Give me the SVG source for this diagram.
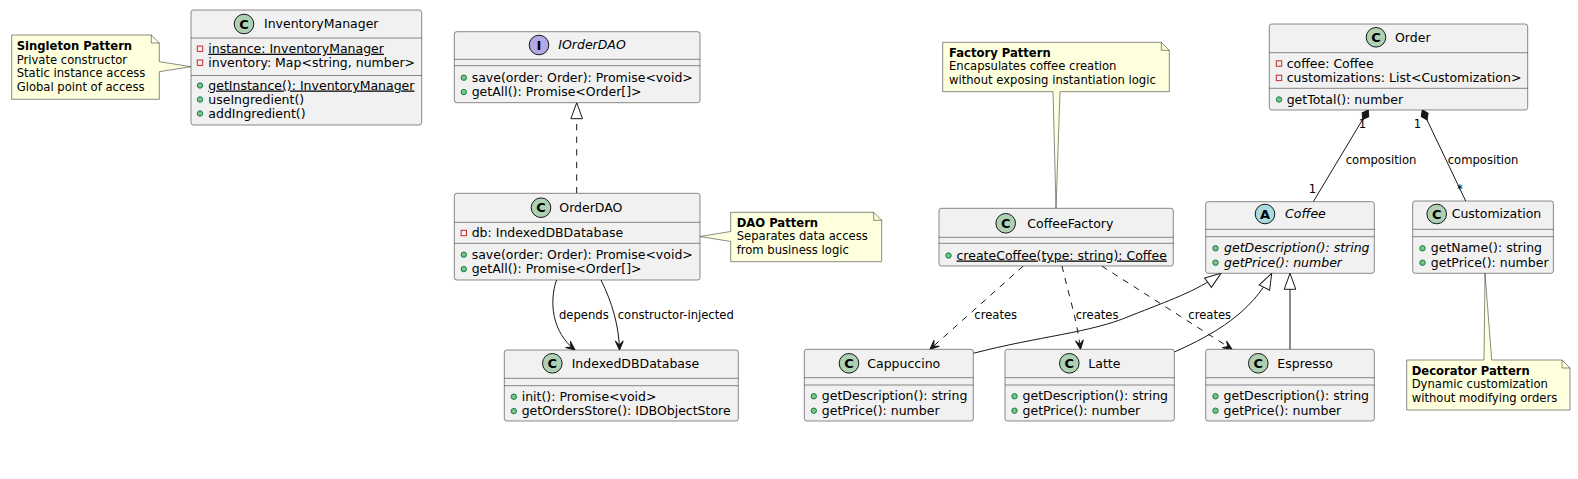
<svg xmlns="http://www.w3.org/2000/svg" width="1578" height="479" viewBox="0 0 1578 479">
<style>
text{font-family:"DejaVu Sans","Liberation Sans",sans-serif;fill:#000}
.t{font-size:12.5px}
.n{font-size:11.6px}
.b{font-weight:bold}
.i{font-style:italic}
.u{text-decoration:underline}
.box{fill:#F1F1F1;stroke:#181818;stroke-width:0.5}
.sep{stroke:#181818;stroke-width:0.5}
.note{fill:#FEFFDD;stroke:#181818;stroke-width:0.5}
.fold{fill:none;stroke:#181818;stroke-width:0.5}
.cc{fill:#ADD1B2;stroke:#181818;stroke-width:1}
.ci{fill:#B4A7E5;stroke:#181818;stroke-width:1}
.ca{fill:#A9DCDF;stroke:#181818;stroke-width:1}
.lt{font-size:13px;font-weight:bold;text-anchor:middle}
.priv{fill:none;stroke:#C82930;stroke-width:1}
.pub{fill:#84BE84;stroke:#038048;stroke-width:1}
.edge{fill:none;stroke:#181818;stroke-width:1}
.dash{stroke-dasharray:6.3,6.3}
</style>
<defs>
<marker id="arr" markerUnits="userSpaceOnUse" markerWidth="20" markerHeight="20" refX="0" refY="0" orient="auto" overflow="visible"><path d="M0,0 L-9,-4 L-5,0 L-9,4 Z" fill="#181818" stroke="#181818" stroke-width="1"/></marker>
<marker id="tri" markerUnits="userSpaceOnUse" markerWidth="20" markerHeight="20" refX="0" refY="0" orient="auto" overflow="visible"><path d="M0,0 L-16,-5.8 L-16,5.8 Z" fill="#FFFFFF" stroke="#181818" stroke-width="1"/></marker>
<marker id="dia" markerUnits="userSpaceOnUse" markerWidth="20" markerHeight="20" refX="0" refY="0" orient="auto" overflow="visible"><path d="M0,0 L5.5,-3.8 L11,0 L5.5,3.8 Z" fill="#181818" stroke="#181818" stroke-width="1"/></marker>
</defs>
<rect width="1578" height="479" fill="#FFFFFF"/>

<g id="connectors">
<path class="edge dash" d="M576.7,193.3 L576.7,102.7" marker-end="url(#tri)"/>
<path class="edge" d="M556.5,280 C549,302 552,332 575,350" marker-end="url(#arr)"/>
<path class="edge" d="M601,280 C612,302 619,326 619.5,350" marker-end="url(#arr)"/>
<path class="edge dash" d="M1023.3,266 L930,349.3" marker-end="url(#arr)"/>
<path class="edge dash" d="M1062,266 C1068,292 1077,320 1080.5,349.3" marker-end="url(#arr)"/>
<path class="edge dash" d="M1101.7,266 L1232,349.3" marker-end="url(#arr)"/>
<path class="edge" d="M973.3,353.3 C1040,336 1090,333 1130,316 C1170,300 1195,292 1221,273.3" marker-end="url(#tri)"/>
<path class="edge" d="M1174.3,352 C1215,334 1252,312 1271.7,273.3" marker-end="url(#tri)"/>
<path class="edge" d="M1290,349.3 L1290,273.3" marker-end="url(#tri)"/>
<path class="edge" d="M1368.3,110 L1313.3,201.7" marker-start="url(#dia)"/>
<path class="edge" d="M1422.3,110 L1465.7,201" marker-start="url(#dia)"/>
<text class="n" x="559" y="318.5">depends</text>
<text class="n" x="617.7" y="318.5">constructor-injected</text>
<text class="n" x="974.3" y="319">creates</text>
<text class="n" x="1075.7" y="319">creates</text>
<text class="n" x="1188.3" y="319">creates</text>
<text class="n" x="1345.7" y="164">composition</text>
<text class="n" x="1447.7" y="164">composition</text>
<text class="n" x="1362.5" y="128.3" text-anchor="middle">1</text>
<text class="n" x="1312.5" y="192.7" text-anchor="middle">1</text>
<text class="n" x="1417.5" y="128.3" text-anchor="middle">1</text>
<text class="n" x="1460" y="192.7" text-anchor="middle">*</text>
</g>

<g id="note-singleton">
<path class="note" d="M11.7,35 L151.3,35 L159.3,43 L159.3,61.7 L191,66.7 L159.3,71.7 L159.3,99.3 L11.7,99.3 Z"/>
<path class="fold" d="M151.3,35 L151.3,43 L159.3,43"/>
<text class="n b" x="16.7" y="50.3">Singleton Pattern</text>
<text class="n" x="16.7" y="63.7">Private constructor</text>
<text class="n" x="16.7" y="77.1">Static instance access</text>
<text class="n" x="16.7" y="90.5">Global point of access</text>
</g>

<g id="InventoryManager">
<rect class="box" x="191" y="10" width="230.7" height="115" rx="2.5"/>
<line class="sep" x1="191" y1="38" x2="421.7" y2="38"/>
<line class="sep" x1="191" y1="75.5" x2="421.7" y2="75.5"/>
<circle class="cc" cx="244" cy="24" r="9.8"/>
<text class="lt" x="244" y="28.6">C</text>
<text class="t" x="264" y="28.4">InventoryManager</text>
<rect class="priv" x="197.3" y="46" width="5.4" height="5.4"/>
<text class="t u" x="208.3" y="52.7">instance: InventoryManager</text>
<rect class="priv" x="197.3" y="60" width="5.4" height="5.4"/>
<text class="t" x="208.3" y="66.7">inventory: Map&lt;string, number&gt;</text>
<circle class="pub" cx="200" cy="85.5" r="2.7"/>
<text class="t u" x="208.3" y="89.5">getInstance(): InventoryManager</text>
<circle class="pub" cx="200" cy="99.5" r="2.7"/>
<text class="t" x="208.3" y="103.5">useIngredient()</text>
<circle class="pub" cx="200" cy="113.5" r="2.7"/>
<text class="t" x="208.3" y="117.5">addIngredient()</text>
</g>

<g id="IOrderDAO">
<rect class="box" x="454.3" y="31.7" width="245.7" height="71" rx="2.5"/>
<line class="sep" x1="454.3" y1="59.3" x2="700" y2="59.3"/>
<line class="sep" x1="454.3" y1="65.7" x2="700" y2="65.7"/>
<circle class="ci" cx="539" cy="45" r="9.8"/>
<text class="lt" x="539" y="49.6">I</text>
<text class="t i" x="558.3" y="49.4">IOrderDAO</text>
<circle class="pub" cx="463.8" cy="77.7" r="2.7"/>
<text class="t" x="471.7" y="81.7">save(order: Order): Promise&lt;void&gt;</text>
<circle class="pub" cx="463.8" cy="92.1" r="2.7"/>
<text class="t" x="471.7" y="96.1">getAll(): Promise&lt;Order[]&gt;</text>
</g>

<g id="OrderDAO">
<rect class="box" x="454.3" y="193.3" width="245.7" height="86.7" rx="2.5"/>
<line class="sep" x1="454.3" y1="222.3" x2="700" y2="222.3"/>
<line class="sep" x1="454.3" y1="243.3" x2="700" y2="243.3"/>
<circle class="cc" cx="541" cy="207.7" r="9.8"/>
<text class="lt" x="541" y="212.3">C</text>
<text class="t" x="559.3" y="212.1">OrderDAO</text>
<rect class="priv" x="461.1" y="230.3" width="5.4" height="5.4"/>
<text class="t" x="471.7" y="237">db: IndexedDBDatabase</text>
<circle class="pub" cx="463.8" cy="254.7" r="2.7"/>
<text class="t" x="471.7" y="258.7">save(order: Order): Promise&lt;void&gt;</text>
<circle class="pub" cx="463.8" cy="269.1" r="2.7"/>
<text class="t" x="471.7" y="273.1">getAll(): Promise&lt;Order[]&gt;</text>
</g>

<g id="note-dao">
<path class="note" d="M730.7,212.3 L873.7,212.3 L881.7,220.3 L881.7,261.7 L730.7,261.7 L730.7,241.5 L700,236.5 L730.7,231.5 Z"/>
<path class="fold" d="M873.7,212.3 L873.7,220.3 L881.7,220.3"/>
<text class="n b" x="736.7" y="226.7">DAO Pattern</text>
<text class="n" x="736.7" y="240.1">Separates data access</text>
<text class="n" x="736.7" y="253.5">from business logic</text>
</g>

<g id="IndexedDBDatabase">
<rect class="box" x="504.3" y="350" width="234" height="71" rx="2.5"/>
<line class="sep" x1="504.3" y1="378.3" x2="738.3" y2="378.3"/>
<line class="sep" x1="504.3" y1="385.7" x2="738.3" y2="385.7"/>
<circle class="cc" cx="552.3" cy="363.3" r="9.8"/>
<text class="lt" x="552.3" y="367.9">C</text>
<text class="t" x="571.7" y="367.7">IndexedDBDatabase</text>
<circle class="pub" cx="513.8" cy="396.7" r="2.7"/>
<text class="t" x="521.7" y="400.7">init(): Promise&lt;void&gt;</text>
<circle class="pub" cx="513.8" cy="411.1" r="2.7"/>
<text class="t" x="521.7" y="415.1">getOrdersStore(): IDBObjectStore</text>
</g>

<g id="note-factory">
<path class="note" d="M942.7,42.3 L1161.3,42.3 L1169.3,50.3 L1169.3,91.7 L1060,91.7 L1056,208.3 L1053,91.7 L942.7,91.7 Z"/>
<path class="fold" d="M1161.3,42.3 L1161.3,50.3 L1169.3,50.3"/>
<text class="n b" x="949" y="56.7">Factory Pattern</text>
<text class="n" x="949" y="70.1">Encapsulates coffee creation</text>
<text class="n" x="949" y="83.5">without exposing instantiation logic</text>
</g>

<g id="CoffeeFactory">
<rect class="box" x="939" y="208.3" width="234.3" height="57.7" rx="2.5"/>
<line class="sep" x1="939" y1="237.3" x2="1173.3" y2="237.3"/>
<line class="sep" x1="939" y1="243.3" x2="1173.3" y2="243.3"/>
<circle class="cc" cx="1005.7" cy="223.3" r="9.8"/>
<text class="lt" x="1005.7" y="227.9">C</text>
<text class="t" x="1027.3" y="227.7">CoffeeFactory</text>
<circle class="pub" cx="948.5" cy="255.5" r="2.7"/>
<text class="t u" x="956.5" y="259.5">createCoffee(type: string): Coffee</text>
</g>

<g id="Order">
<rect class="box" x="1269.3" y="24" width="258.4" height="86" rx="2.5"/>
<line class="sep" x1="1269.3" y1="52.7" x2="1527.7" y2="52.7"/>
<line class="sep" x1="1269.3" y1="88.3" x2="1527.7" y2="88.3"/>
<circle class="cc" cx="1376" cy="37.3" r="9.8"/>
<text class="lt" x="1376" y="41.9">C</text>
<text class="t" x="1395" y="41.7">Order</text>
<rect class="priv" x="1276.3" y="60.8" width="5.4" height="5.4"/>
<text class="t" x="1286.7" y="67.5">coffee: Coffee</text>
<rect class="priv" x="1276.3" y="75.2" width="5.4" height="5.4"/>
<text class="t" x="1286.7" y="81.9">customizations: List&lt;Customization&gt;</text>
<circle class="pub" cx="1279" cy="99.5" r="2.7"/>
<text class="t" x="1286.7" y="103.5">getTotal(): number</text>
</g>

<g id="Coffee">
<rect class="box" x="1205.7" y="201.7" width="168.6" height="71.6" rx="2.5"/>
<line class="sep" x1="1205.7" y1="229.3" x2="1374.3" y2="229.3"/>
<line class="sep" x1="1205.7" y1="236.7" x2="1374.3" y2="236.7"/>
<circle class="ca" cx="1265" cy="214" r="9.8"/>
<text class="lt" x="1265" y="218.6">A</text>
<text class="t i" x="1285" y="218.4">Coffee</text>
<circle class="pub" cx="1215.5" cy="248.3" r="2.7"/>
<text class="t i" x="1224" y="252.3">getDescription(): string</text>
<circle class="pub" cx="1215.5" cy="262.7" r="2.7"/>
<text class="t i" x="1224" y="266.7">getPrice(): number</text>
</g>

<g id="Customization">
<rect class="box" x="1412.7" y="201" width="140.7" height="72.3" rx="2.5"/>
<line class="sep" x1="1412.7" y1="229.3" x2="1553.4" y2="229.3"/>
<line class="sep" x1="1412.7" y1="236.7" x2="1553.4" y2="236.7"/>
<circle class="cc" cx="1436.7" cy="214" r="9.8"/>
<text class="lt" x="1436.7" y="218.6">C</text>
<text class="t" x="1451.7" y="218.4">Customization</text>
<circle class="pub" cx="1422.5" cy="248.3" r="2.7"/>
<text class="t" x="1430.8" y="252.3">getName(): string</text>
<circle class="pub" cx="1422.5" cy="262.7" r="2.7"/>
<text class="t" x="1430.8" y="266.7">getPrice(): number</text>
</g>

<g id="note-decorator">
<path class="note" d="M1406.7,360 L1484,360 L1485,273.3 L1491.7,360 L1562,360 L1570,368 L1570,410 L1406.7,410 Z"/>
<path class="fold" d="M1562,360 L1562,368 L1570,368"/>
<text class="n b" x="1411.7" y="375">Decorator Pattern</text>
<text class="n" x="1411.7" y="388.4">Dynamic customization</text>
<text class="n" x="1411.7" y="401.8">without modifying orders</text>
</g>

<g id="Cappuccino">
<rect class="box" x="804.3" y="349.3" width="169" height="71.7" rx="2.5"/>
<line class="sep" x1="804.3" y1="377.7" x2="973.3" y2="377.7"/>
<line class="sep" x1="804.3" y1="385" x2="973.3" y2="385"/>
<circle class="cc" cx="849" cy="363.3" r="9.8"/>
<text class="lt" x="849" y="367.9">C</text>
<text class="t" x="867.3" y="367.7">Cappuccino</text>
<circle class="pub" cx="813.8" cy="396.3" r="2.7"/>
<text class="t" x="821.8" y="400.3">getDescription(): string</text>
<circle class="pub" cx="813.8" cy="410.7" r="2.7"/>
<text class="t" x="821.8" y="414.7">getPrice(): number</text>
</g>

<g id="Latte">
<rect class="box" x="1005" y="349.3" width="169.3" height="71.7" rx="2.5"/>
<line class="sep" x1="1005" y1="377.7" x2="1174.3" y2="377.7"/>
<line class="sep" x1="1005" y1="385" x2="1174.3" y2="385"/>
<circle class="cc" cx="1069.3" cy="363.3" r="9.8"/>
<text class="lt" x="1069.3" y="367.9">C</text>
<text class="t" x="1088.3" y="367.7">Latte</text>
<circle class="pub" cx="1014.5" cy="396.3" r="2.7"/>
<text class="t" x="1022.5" y="400.3">getDescription(): string</text>
<circle class="pub" cx="1014.5" cy="410.7" r="2.7"/>
<text class="t" x="1022.5" y="414.7">getPrice(): number</text>
</g>

<g id="Espresso">
<rect class="box" x="1205.7" y="349.3" width="168.6" height="71.7" rx="2.5"/>
<line class="sep" x1="1205.7" y1="377.7" x2="1374.3" y2="377.7"/>
<line class="sep" x1="1205.7" y1="385" x2="1374.3" y2="385"/>
<circle class="cc" cx="1258.3" cy="363.3" r="9.8"/>
<text class="lt" x="1258.3" y="367.9">C</text>
<text class="t" x="1277.3" y="367.7">Espresso</text>
<circle class="pub" cx="1215.5" cy="396.3" r="2.7"/>
<text class="t" x="1223.5" y="400.3">getDescription(): string</text>
<circle class="pub" cx="1215.5" cy="410.7" r="2.7"/>
<text class="t" x="1223.5" y="414.7">getPrice(): number</text>
</g>
</svg>
